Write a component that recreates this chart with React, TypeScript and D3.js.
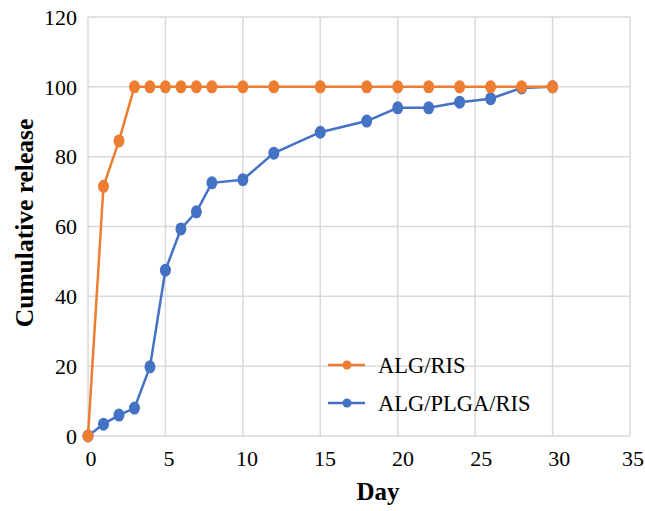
import React, { useEffect, useRef } from "react";
import * as d3 from "d3";

// data
const days = [0, 1, 2, 3, 4, 5, 6, 7, 8, 10, 12, 15, 18, 20, 22, 24, 26, 28, 30];
const algRis = [0, 71.5, 84.5, 100, 100, 100, 100, 100, 100, 100, 100, 100, 100, 100, 100, 100, 100, 100, 100];
const algPlgaRis = [0, 3.4, 6, 8, 19.8, 47.5, 59.3, 64.2, 72.5, 73.4, 81, 87, 90.2, 94, 94, 95.6, 96.6, 99.7, 100];
const seriesNames = ["ALG/RIS", "ALG/PLGA/RIS"];
const seriesColors = ["#ED7D31", "#4472C4"];
const xTicks = [0, 5, 10, 15, 20, 25, 30, 35];
const yTicks = [0, 20, 40, 60, 80, 100, 120];

const App = () => {
  const svgRef = useRef<SVGSVGElement>(null);

  useEffect(() => {
    const width = 645;
    const height = 511;
    const margin = { top: 17, right: 15, bottom: 75, left: 88 };

    const svg = d3.select(svgRef.current);
    svg.selectAll("*").remove();
    svg.attr("width", width).attr("height", height);

    const x = d3.scaleLinear().domain([0, 35]).range([margin.left, width - margin.right]);
    const y = d3.scaleLinear().domain([0, 120]).range([height - margin.bottom, margin.top]);

    const font = "'Liberation Serif', 'Times New Roman', serif";

    // grid
    svg
      .append("g")
      .selectAll("line")
      .data(yTicks)
      .enter()
      .append("line")
      .attr("x1", x(0))
      .attr("x2", x(35))
      .attr("y1", (d) => y(d))
      .attr("y2", (d) => y(d))
      .attr("stroke", "#d9d9d9")
      .attr("stroke-width", 1.5);

    svg
      .append("g")
      .selectAll("line")
      .data(xTicks)
      .enter()
      .append("line")
      .attr("x1", (d) => x(d))
      .attr("x2", (d) => x(d))
      .attr("y1", y(0))
      .attr("y2", y(120))
      .attr("stroke", "#d9d9d9")
      .attr("stroke-width", 1.5);

    // tick labels
    svg
      .append("g")
      .selectAll("text")
      .data(yTicks)
      .enter()
      .append("text")
      .attr("x", 77)
      .attr("y", (d) => y(d))
      .attr("dy", "0.35em")
      .attr("text-anchor", "end")
      .style("font-family", font)
      .style("font-size", "22px")
      .text((d) => d);

    // labels sit a bit right of their gridlines in the reference
    svg
      .append("g")
      .selectAll("text")
      .data(xTicks)
      .enter()
      .append("text")
      .attr("x", (d) => Math.min(x(d) + 3 + d * 0.12, width - 12))
      .attr("y", 458)
      .attr("dy", "0.35em")
      .attr("text-anchor", "middle")
      .style("font-family", font)
      .style("font-size", "22px")
      .text((d) => d);

    // axis titles
    svg
      .append("text")
      .attr("x", 378)
      .attr("y", 500)
      .attr("text-anchor", "middle")
      .style("font-family", font)
      .style("font-size", "25px")
      .style("font-weight", "bold")
      .text("Day");

    svg
      .append("text")
      .attr("transform", "translate(33,223) rotate(-90)")
      .attr("text-anchor", "middle")
      .style("font-family", font)
      .style("font-size", "25.5px")
      .style("font-weight", "bold")
      .text("Cumulative release");

    const line = d3
      .line<number>()
      .x((_, i) => x(days[i]))
      .y((d) => y(d));

    // draw blue first, orange on top
    const series = [algPlgaRis, algRis];
    const colors = [seriesColors[1], seriesColors[0]];

    series.forEach((vals, si) => {
      svg
        .append("path")
        .datum(vals)
        .attr("d", line)
        .attr("fill", "none")
        .attr("stroke", colors[si])
        .attr("stroke-width", 2.5);

      svg
        .append("g")
        .selectAll("ellipse")
        .data(vals)
        .enter()
        .append("ellipse")
        .attr("cx", (_, i) => x(days[i]))
        .attr("cy", (d) => y(d))
        .attr("rx", 5.5)
        .attr("ry", 6.5)
        .attr("fill", colors[si]);
    });

    // legend
    const legend = svg.append("g");
    seriesNames.forEach((name, i) => {
      const ly = 365 + i * 38;
      legend
        .append("line")
        .attr("x1", 328)
        .attr("x2", 365)
        .attr("y1", ly)
        .attr("y2", ly)
        .attr("stroke", seriesColors[i])
        .attr("stroke-width", 2.5);
      legend
        .append("circle")
        .attr("cx", 347)
        .attr("cy", ly)
        .attr("r", 4.5)
        .attr("fill", seriesColors[i]);
      legend
        .append("text")
        .attr("x", 378)
        .attr("y", ly)
        .attr("dy", "0.35em")
        .style("font-family", font)
        .style("font-size", "22.5px")
        .text(name);
    });
  }, []);

  return <svg ref={svgRef} style={{ position: "absolute", left: 0, top: 0 }} />;
};

export default App;
